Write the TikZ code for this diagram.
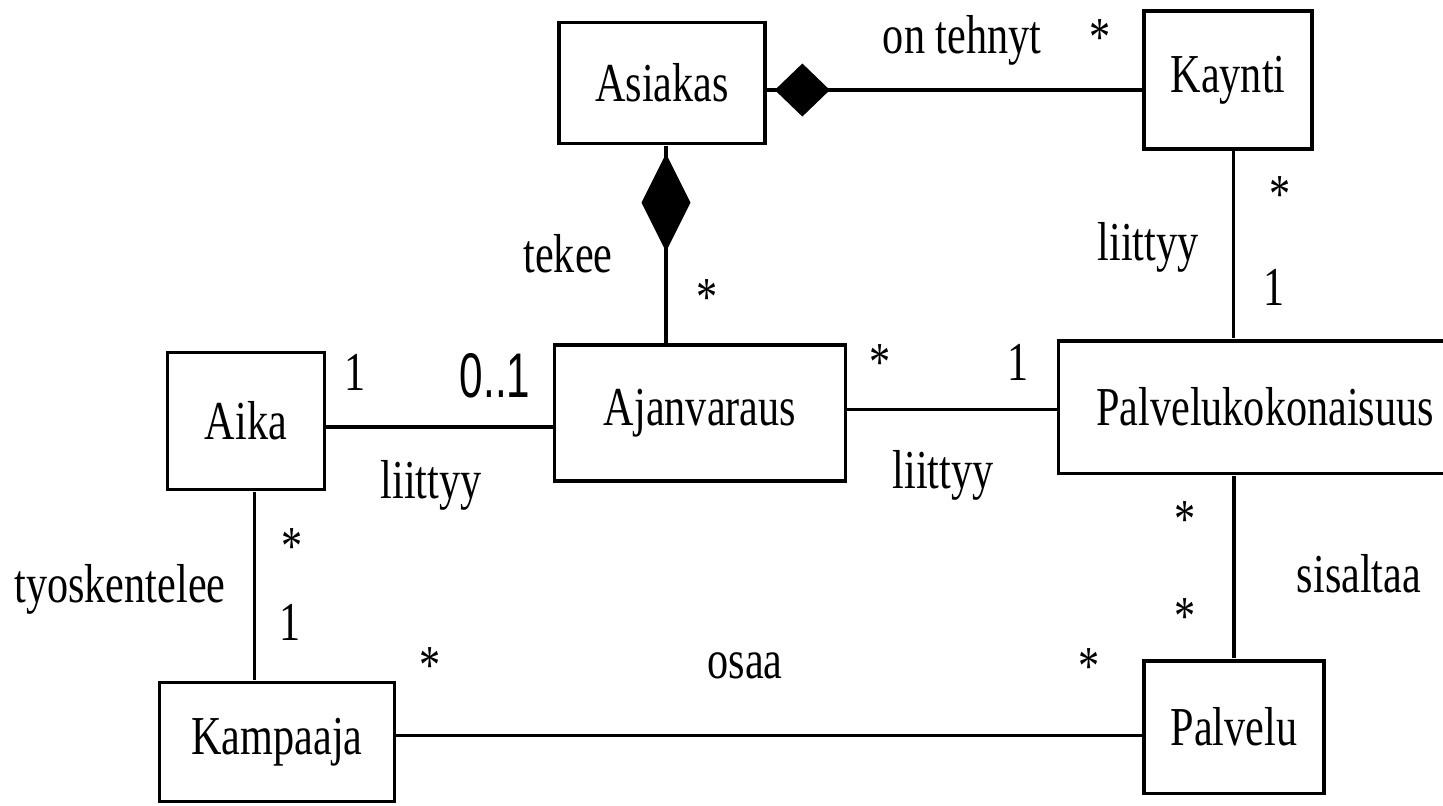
\documentclass[tikz,border=0pt]{standalone}
\usepackage{fontspec}
\setmainfont{Liberation Serif}
\newfontfamily\kerroinfont{Liberation Sans}
\usepackage{tikz}
\usetikzlibrary{arrows.meta}

\begin{document}
\begin{tikzpicture}[x=0.01cm, y=-0.01cm,
    every node/.style={font=\fontsize{12}{14}\selectfont, yscale=1.3, transform shape},
    luokka/.style={draw, line width=1pt, inner sep=0pt},
    teksti/.style={anchor=base, inner sep=0pt},
    yhteys/.style={line width=1pt},
    kooste/.style={yhteys, postaction={draw, shorten <=0.8mm, {Diamond[length=5.5mm, width=5.3mm]}-}},
    kooste2/.style={yhteys, postaction={draw, shorten <=0.8mm, {Diamond[length=9.8mm, width=4.9mm]}-}}]
    \useasboundingbox (0,0) rectangle (1443,805);

    % luokat
    \node [luokka, minimum width=20.6mm, minimum height=9.27mm] (asiakas) at (662,83) {Asiakas};
    \node [luokka, minimum width=16.75mm, minimum height=10.58mm] (kaynti) at (1228,80) {Kaynti};
    \node [luokka, minimum width=15.65mm, minimum height=10.5mm] (aika) at (246,421) {Aika};
    \node [luokka, minimum width=29.05mm, minimum height=10.42mm] (ajanvaraus) at (700,413) {Ajanvaraus};
    \node [luokka, minimum width=41.3mm, minimum height=10.19mm] (palvelukokonaisuus) at (1265,407) {Palvelukokonaisuus};
    \node [luokka, minimum width=23.45mm, minimum height=9.12mm] (kampaaja) at (277,742) {Kampaaja};
    \node [luokka, minimum width=17.95mm, minimum height=10.19mm] (palvelu) at (1234,727) {Palvelu};

    % yhteydet
    \draw [kooste] ([yshift=-0.7mm]asiakas.east) -- ([yshift=-0.7mm]asiakas.east -| kaynti.west);
    \draw [kooste2] ([xshift=0.4mm]asiakas.south) -- ([xshift=0.4mm]asiakas.south |- ajanvaraus.north);
    \draw [yhteys] ([xshift=0.55mm]kaynti.south) -- ([xshift=0.55mm]kaynti.south |- palvelukokonaisuus.north);
    \draw [yhteys] ([yshift=-0.6mm]aika.east) -- ([yshift=-0.6mm]aika.east -| ajanvaraus.west);
    \draw [yhteys] ([yshift=0.35mm]ajanvaraus.east) -- ([yshift=0.35mm]ajanvaraus.east -| palvelukokonaisuus.west);
    \draw [yhteys] ([xshift=0.85mm]aika.south) -- ([xshift=0.85mm]aika.south |- kampaaja.north);
    \draw [yhteys] (palvelu.north) -- (palvelu.north |- palvelukokonaisuus.south);
    \draw [yhteys] ([yshift=0.65mm]kampaaja.east) -- ([yshift=0.65mm]kampaaja.east -| palvelu.west);

    % nimet ja kertoimet
    \node [teksti] (tehnyt) at (962,53) {on tehnyt};
    \node [teksti] (tehnytm) at (1100,55) {*};
    \node [teksti] (tekee) at (568,272) {tekee};
    \node [teksti] (tekeem) at (707,315) {*};
    \node [teksti] (liittyyk) at (1148,260) {liittyy};
    \node [teksti] (kayntim) at (1280,212) {*};
    \node [teksti] (kayntik) at (1274,305) {1};
    \node [teksti] (aikak) at (355,390) {1};
    \node [teksti, yscale=1.15] (varausk) at (495,397) {\kerroinfont 0..1};
    \node [teksti] (liittyya) at (431,498) {liittyy};
    \node [teksti] (varausm) at (880,380) {*};
    \node [teksti] (kokonaisk) at (1018,380) {1};
    \node [teksti] (liittyyp) at (943,488) {liittyy};
    \node [teksti] (aikam) at (292,564) {*};
    \node [teksti] (tyoskentelee) at (120,602) {tyoskentelee};
    \node [teksti] (kampaajak) at (290,640) {1};
    \node [teksti] (kokonaism) at (1185,537) {*};
    \node [teksti] (sisaltaa) at (1359,592) {sisaltaa};
    \node [teksti] (palvelum) at (1185,634) {*};
    \node [teksti] (palveluo) at (1089,684) {*};
    \node [teksti] (kampaajam) at (430,683) {*};
    \node [teksti] (osaa) at (745,678) {osaa};
\end{tikzpicture}
\end{document}
